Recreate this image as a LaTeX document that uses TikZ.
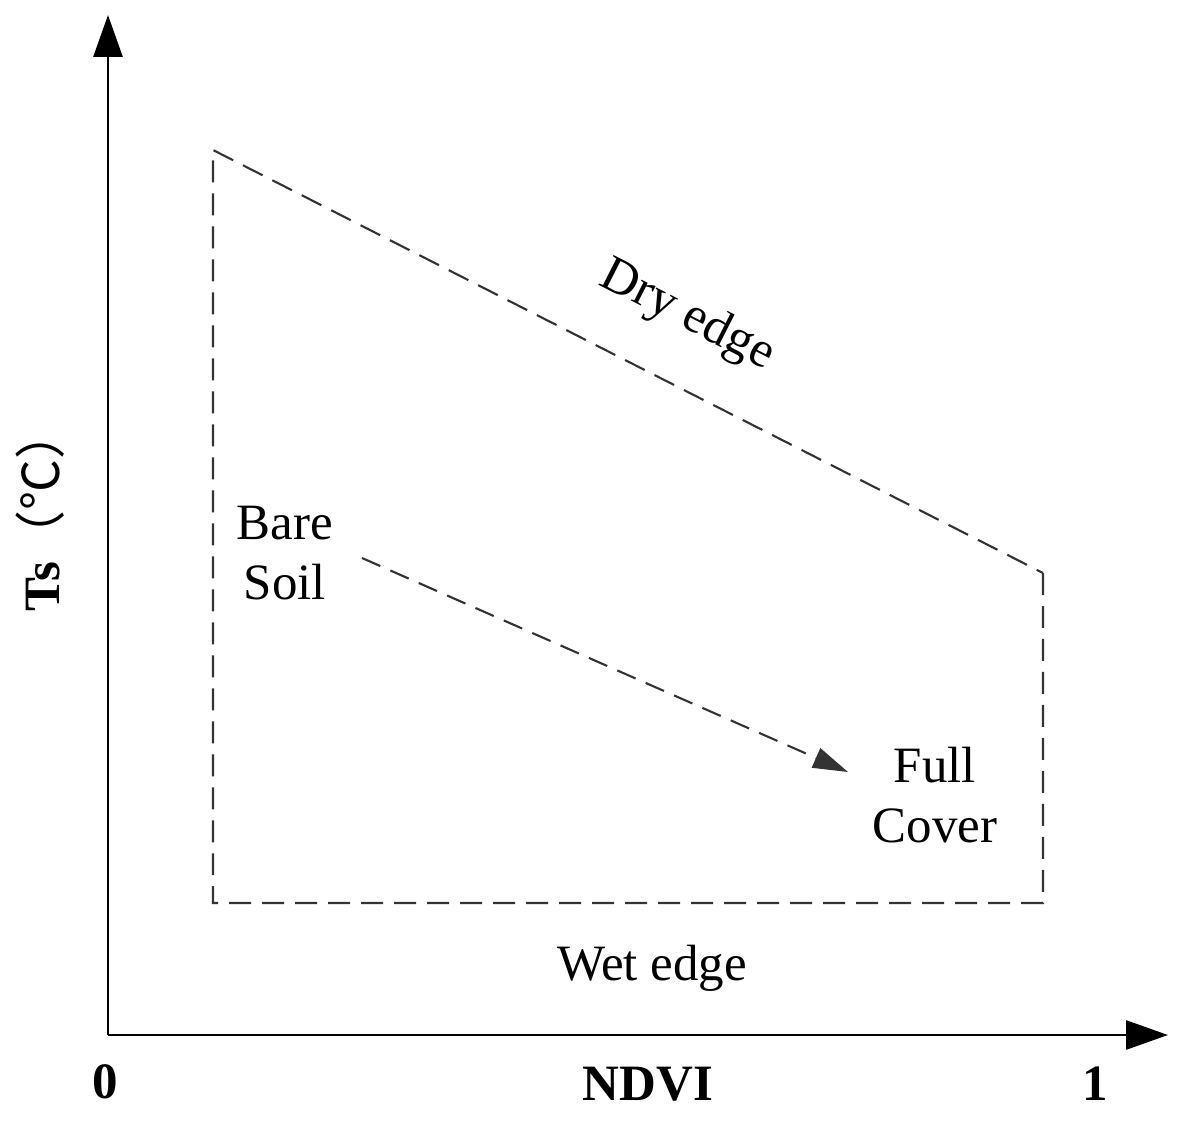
\documentclass[tikz,border=0pt]{standalone}
\usepackage{fontspec}
\setmainfont{Liberation Serif}
\newfontfamily\cjkfont{Noto Sans CJK SC}
\usetikzlibrary{arrows.meta}
\tikzset{
  axis/.style={line width=1.6pt, -{Triangle[length=0.84cm,width=0.58cm]}},
  edge/.style={line width=1.2pt, dash pattern=on 0.44cm off 0.22cm, black!80},
  lbl/.style={font=\fontsize{29}{34}\selectfont, inner sep=0pt, align=center},
  blbl/.style={font=\fontsize{29}{34}\selectfont\bfseries, inner sep=0pt}
}
\begin{document}
\begin{tikzpicture}[x=0.02cm,y=-0.02cm]
\useasboundingbox (0,0) rectangle (1185,1122);
\coordinate (O) at (108,1035);
\coordinate (Ytop) at (108,15);
\coordinate (Xend) at (1168,1035);
\draw[axis] (O) -- (Ytop);
\draw[axis] (O) -- (Xend);
% dashed region
\coordinate (A) at (213,150);
\coordinate (B) at (213,903);
\coordinate (C) at (1043,903);
\coordinate (D) at (1043,573);
\draw[edge] (D) -- (C) -- (B) -- (A) -- cycle;
% trend arrow
\coordinate (S) at (362,558);
\coordinate (E) at (848,772);
\draw[edge, dash pattern=on 0.4cm off 0.22cm, -{Triangle[length=0.7cm,width=0.42cm]}] (S) -- (E);
% labels
\node[lbl, rotate=-27] (dry) at (687,316) {Dry edge};
\node[lbl] (bare) at (285,553) {Bare\\Soil};
\node[lbl] (full) at (935,795) {Full\\Cover};
\node[lbl] (wet) at (652,968) {Wet edge};
\node[blbl, rotate=90] (ts) at (40,510) {Ts{\cjkfont\mdseries（℃）}};
\node[blbl] (zero) at (105,1082) {0};
\node[blbl] (ndvi) at (648,1084) {NDVI};
\node[blbl] (one) at (1095,1084) {1};
\end{tikzpicture}
\end{document}
